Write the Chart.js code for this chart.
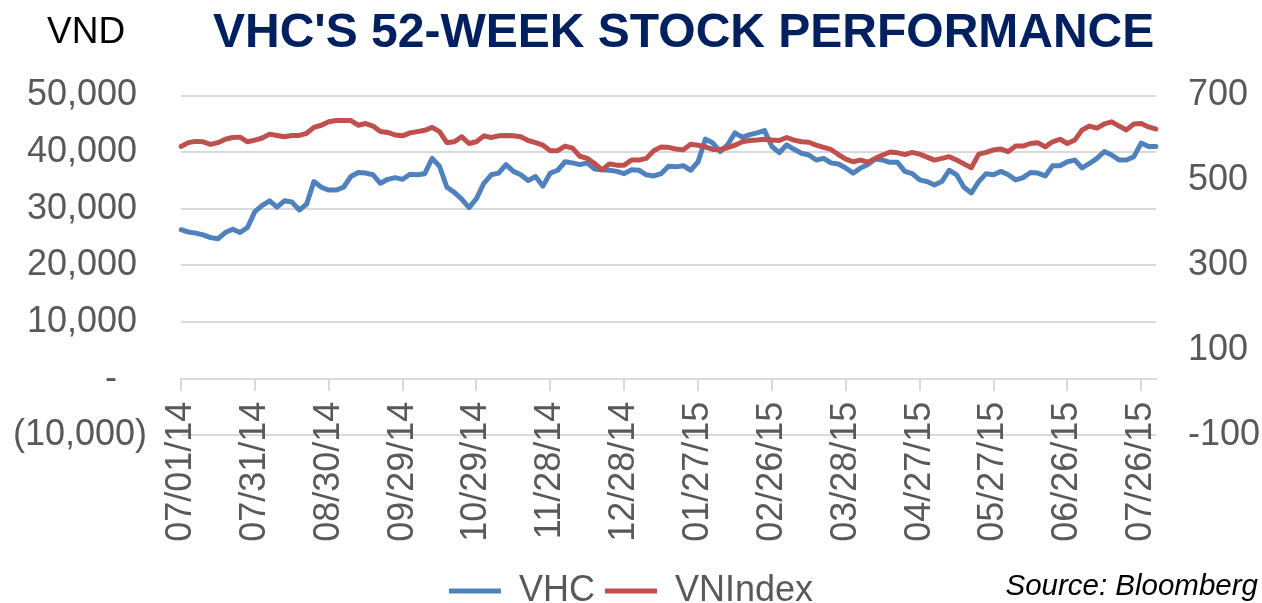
<!DOCTYPE html>
<html>
<head>
<meta charset="utf-8">
<script src="https://cdn.jsdelivr.net/npm/chart.js@4.4.1/dist/chart.umd.min.js"></script>
<style>
  body { margin: 0; background: #fff; font-family: "Liberation Sans", Arial, sans-serif; }
  #wrap { position: relative; width: 1262px; height: 603px; }
  .txt { position: absolute; white-space: nowrap; }
  #title { left: 213px; top: 7px; font-size: 48px; line-height: 48px; font-weight: bold; color: #002060; }
  #unit { left: 47px; top: 12px; font-size: 37px; line-height: 37px; color: #000; }
  #source { right: 4px; top: 570px; font-size: 29.5px; line-height: 29.5px; font-style: italic; color: #000; }
</style>
</head>
<body>
<div id="wrap">
  <canvas id="main-graph"></canvas>
  <div class="txt" id="unit">VND</div>
  <div class="txt" id="title">VHC'S 52-WEEK STOCK PERFORMANCE</div>
  <div class="txt" id="source">Source: Bloomberg</div>
</div>
<script>
// one sample every 3 days, starting 07/01/14
const startDate = new Date(2014, 6, 1);
const stepDays = 3;

// VHC close, VND
const vhcPrice = [
  26300, 25900, 25700, 25400, 24900, 24700, 25800, 26400, 25800, 26700,
  29500, 30600, 31400, 30300, 31400, 31200, 29800, 30800, 34800, 33800,
  33300, 33300, 33800, 35700, 36400, 36300, 36000, 34500, 35200, 35500,
  35200, 36100, 36000, 36200, 38900, 37500, 33800, 32900, 31700, 30200,
  31800, 34500, 36000, 36300, 37800, 36600, 36000, 35000, 35700, 34000,
  36300, 36800, 38300, 38100, 37800, 38100, 37000, 36900, 36800, 36600,
  36200, 36900, 36800, 36000, 35800, 36200, 37500, 37400, 37600, 36800,
  38300, 42300, 41600, 40100, 41300, 43400, 42600, 43100, 43400, 43800,
  41000, 39900, 41300, 40500, 39800, 39500, 38600, 38900, 38100, 37900,
  37200, 36300, 37200, 37800, 38800, 38600, 38200, 38200, 36600, 36200,
  35100, 34800, 34200, 34800, 36800, 36000, 33800, 32800, 34800, 36200,
  36000, 36600, 36000, 35100, 35500, 36400, 36300, 35800, 37600, 37600,
  38300, 38600, 37200, 38000, 38900, 40100, 39500, 38600, 38600, 39200,
  41600, 41000, 41000
];

// VN-Index, points
const vnIndex = [
  580, 589, 592, 591, 585, 589, 597, 601, 602, 591,
  595, 600, 609, 606, 603, 606, 606, 611, 625, 630,
  638, 641, 641, 641, 630, 634, 628, 615, 613, 607,
  605, 612, 615, 618, 625, 615, 589, 591, 603, 587,
  591, 605, 601, 605, 606, 605, 603, 594, 589, 583,
  570, 570, 581, 576, 557, 552, 540, 525, 539, 536,
  536, 548, 548, 552, 570, 579, 578, 574, 572, 585,
  583, 579, 573, 573, 577, 583, 591, 594, 595, 597,
  595, 594, 601, 595, 591, 590, 583, 578, 573, 561,
  550, 544, 548, 543, 552, 560, 567, 565, 561, 566,
  562, 555, 548, 552, 556, 548, 539, 530, 562, 566,
  572, 574, 568, 581, 581, 587, 589, 579, 591, 597,
  587, 595, 619, 628, 623, 633, 638, 628, 619, 633,
  634, 626, 621
];

const tickEvery = 10; // label every 30 days

const pad2 = (n) => String(n).padStart(2, "0");
const dates = vhcPrice.map((v, i) => {
  const d = new Date(startDate);
  d.setDate(d.getDate() + i * stepDays);
  return pad2(d.getMonth() + 1) + "/" + pad2(d.getDate()) + "/" + pad2(d.getFullYear() % 100);
});

const fontFamily = "'Liberation Sans', Arial, sans-serif";
const tickFont = { family: fontFamily, size: 36 };
const grey = "#595959";
const gridGrey = "#d9d9d9";

const fmtVnd = (v) => {
  if (v === 0) return "-   ";
  const s = Math.abs(v).toLocaleString("en-US");
  return v < 0 ? "(" + s + ")" : s + " ";
};

const ctx = document.getElementById("main-graph");

new Chart(ctx, {
  type: "line",
  data: {
    labels: dates,
    datasets: [
      {
        label: "VHC",
        data: vhcPrice,
        yAxisID: "y",
        borderColor: "#4F81BD",
        backgroundColor: "#4F81BD",
        borderWidth: 5,
        pointRadius: 0,
        borderJoinStyle: "round",
        borderCapStyle: "round",
        order: 1,
      },
      {
        label: "VNIndex",
        data: vnIndex,
        yAxisID: "y1",
        borderColor: "#C0504D",
        backgroundColor: "#C0504D",
        borderWidth: 5,
        pointRadius: 0,
        borderJoinStyle: "round",
        borderCapStyle: "round",
        order: 0,
      },
    ],
  },
  options: {
    responsive: true,
    maintainAspectRatio: false,
    animation: false,
    layout: {
      padding: { top: 95.5, bottom: -16, left: 0, right: 0 },
    },
    scales: {
      x: {
        type: "category",
        position: { y: 0 },
        grid: {
          drawOnChartArea: false,
          drawTicks: true,
          tickLength: 11,
          color: gridGrey,
          lineWidth: 2,
        },
        border: { display: true, color: gridGrey, width: 2 },
        ticks: {
          autoSkip: false,
          minRotation: 90,
          maxRotation: 90,
          padding: 12,
          color: grey,
          font: tickFont,
        },
        afterBuildTicks: (axis) => {
          axis.ticks = axis.ticks.filter((t) => t.value % tickEvery === 0);
        },
      },
      y: {
        position: "left",
        min: -10000,
        max: 50000,
        grid: { color: gridGrey, lineWidth: 2, drawTicks: false },
        border: { display: false },
        ticks: {
          stepSize: 10000,
          padding: 34,
          color: grey,
          font: tickFont,
          callback: (v) => fmtVnd(v),
        },
        afterFit: (s) => {
          s.width = 181;
        },
      },
      y1: {
        position: "right",
        min: -100,
        max: 700,
        grid: { drawOnChartArea: false, drawTicks: false },
        border: { display: false },
        ticks: {
          stepSize: 200,
          padding: 32,
          color: grey,
          font: tickFont,
        },
        afterFit: (s) => {
          s.width = 106;
        },
      },
    },
    plugins: {
      legend: {
        position: "bottom",
        title: {
          display: true,
          text: "",
          padding: { top: 126.7, bottom: 0 },
          font: { size: 1, lineHeight: 1 },
        },
        labels: {
          usePointStyle: true,
          pointStyle: "line",
          pointStyleWidth: 52,
          padding: 10,
          color: grey,
          font: { family: fontFamily, size: 36 },
          sort: (a, b) => a.datasetIndex - b.datasetIndex,
        },
      },
      tooltip: { enabled: false },
    },
  },
});
</script>
</body>
</html>
